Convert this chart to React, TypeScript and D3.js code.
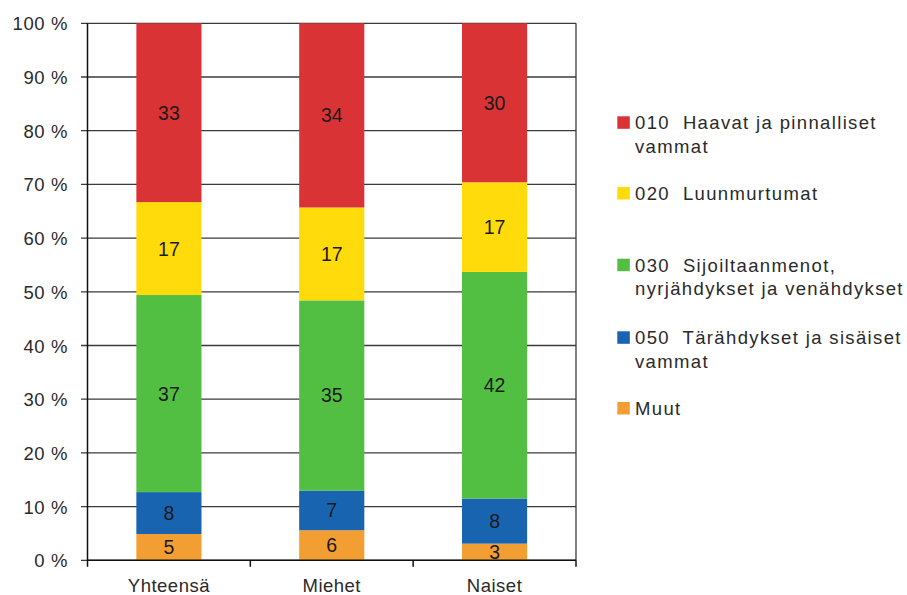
import React from "react";
import * as d3 from "d3";

const categories = ["Yhteensä", "Miehet", "Naiset"];
const seriesNames = [
  "Muut",
  "050  Tärähdykset ja sisäiset vammat",
  "030  Sijoiltaanmenot, nyrjähdykset ja venähdykset",
  "020  Luunmurtumat",
  "010  Haavat ja pinnalliset vammat",
];
const muut = [4.9, 5.6, 3.1];
const s050 = [7.8, 7.4, 8.4];
const s030 = [36.7, 35.4, 42.2];
const s020 = [17.3, 17.3, 16.7];
const s010 = [33.3, 34.3, 29.6];
const yTicks = [0, 10, 20, 30, 40, 50, 60, 70, 80, 90, 100];
const colors = ["#F29E33", "#1864B0", "#52BF42", "#FFDB0B", "#DA3335"];

// legend order top to bottom, with wrapped lines
const legendItems = [
  { idx: 4, lines: ["010  Haavat ja pinnalliset", "vammat"], y: 129.3 },
  { idx: 3, lines: ["020  Luunmurtumat"], y: 200 },
  { idx: 2, lines: ["030  Sijoiltaanmenot,", "nyrjähdykset ja venähdykset"], y: 271.7 },
  { idx: 1, lines: ["050  Tärähdykset ja sisäiset", "vammat"], y: 344.3 },
  { idx: 0, lines: ["Muut"], y: 415 },
];

const FONT = "'Liberation Sans', Arial, sans-serif";
const TXT = "#2a2a2a";

export default function App() {
  const W = 907;
  const H = 595;
  const left = 87.5;
  const right = 576;
  const top = 23.3;
  const bottom = 560.3;

  const allSeries = [muut, s050, s030, s020, s010];
  const rows = categories.map((c, i) => {
    const o: any = { cat: c };
    seriesNames.forEach((n, k) => (o[n] = allSeries[k][i]));
    return o;
  });
  const stacked = d3.stack().keys(seriesNames)(rows);

  const x = d3.scaleBand().domain(categories).range([left, right]).paddingInner(0.6).paddingOuter(0.3);
  const xOuter = d3.scaleBand().domain(categories).range([left, right]);
  const y = d3.scaleLinear().domain([0, 100]).range([bottom, top]);

  return (
    <svg width={W} height={H} style={{ position: "absolute", left: 0, top: 0, background: "#fff" }} fontFamily={FONT}>
      {/* gridlines */}
      {yTicks.map((t) => (
        <line key={"g" + t} x1={left - 6.5} x2={right} y1={y(t)} y2={y(t)} stroke="#3a3a3a" strokeWidth={1.3} />
      ))}
      {/* tick labels */}
      {yTicks.map((t) => (
        <text key={"t" + t} x={68} y={y(t) + 7} textAnchor="end" fontSize={18.5} letterSpacing={0.6} fill={TXT}>
          {t} %
        </text>
      ))}
      {/* bars */}
      {stacked.map((s, k) =>
        s.map((d, i) => (
          <rect
            key={k + "-" + i}
            x={x(categories[i])!}
            width={x.bandwidth()}
            y={y(d[1])}
            height={y(d[0]) - y(d[1])}
            fill={colors[k]}
          />
        ))
      )}
      {/* bar labels */}
      {stacked.map((s, k) =>
        s.map((d, i) => (
          <text
            key={"l" + k + "-" + i}
            x={x(categories[i])! + x.bandwidth() / 2}
            y={(y(d[0]) + y(d[1])) / 2 + 7}
            textAnchor="middle"
            fontSize={19.5}
            fill="#1a1a1a"
          >
            {Math.round(d[1] - d[0])}
          </text>
        ))
      )}
      {/* axes */}
      <line x1={left} x2={left} y1={top} y2={bottom} stroke="#111" strokeWidth={1.5} />
      <line x1={right} x2={right} y1={top} y2={bottom} stroke="#3a3a3a" strokeWidth={1.3} />
      <line x1={left} x2={right} y1={bottom} y2={bottom} stroke="#111" strokeWidth={1.5} />
      {[...categories.map((c) => xOuter(c)!), right].map((v, i) => (
        <line key={"xt" + i} x1={v} x2={v} y1={bottom} y2={bottom + 6.5} stroke="#111" strokeWidth={1.5} />
      ))}
      {categories.map((c) => (
        <text key={"c" + c} x={x(c)! + x.bandwidth() / 2} y={591.5} textAnchor="middle" fontSize={18.5} letterSpacing={0.5} fill={TXT}>
          {c}
        </text>
      ))}
      {/* legend */}
      {legendItems.map((it) => (
        <g key={"lg" + it.idx}>
          <rect x={617.3} y={it.y - 13} width={12.5} height={12.5} fill={colors[it.idx]} />
          {it.lines.map((ln, j) => (
            <text
              key={j}
              x={635}
              y={it.y + j * 23.4}
              fontSize={18.5}
              letterSpacing={1.35}
              fill={TXT}
              style={{ whiteSpace: "pre" }}
            >
              {ln}
            </text>
          ))}
        </g>
      ))}
    </svg>
  );
}
